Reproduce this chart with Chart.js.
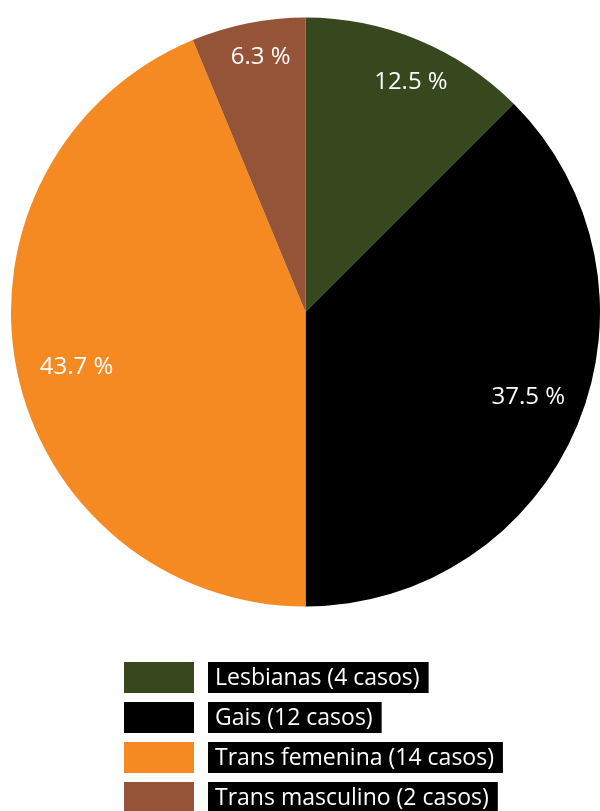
<!DOCTYPE html>
<html>
<head>
<meta charset="utf-8">
<script src="https://cdn.jsdelivr.net/npm/chart.js@4/dist/chart.umd.min.js"></script>
<style>
html,body{margin:0;padding:0;background:#fff;}
#wrap{width:600px;height:811px;position:relative;}
</style>
</head>
<body>
<div id="wrap"><canvas id="c" width="600" height="811"></canvas></div>
<script>
const categories = ["Lesbianas", "Gais", "Trans femenina", "Trans masculino"];
const cases = [4, 12, 14, 2];
const percentLabels = ["12.5 %", "37.5 %", "43.7 %", "6.3 %"];
const legendLabels = ["Lesbianas (4 casos)", "Gais (12 casos)", "Trans femenina (14 casos)", "Trans masculino (2 casos)"];
const colors = ["#37481f", "#000000", "#f58a22", "#955437"];

const FONT = '"Open Sans", "Noto Sans", sans-serif';

const sliceLabels = {
  id: 'sliceLabels',
  afterDatasetsDraw(chart, args, opts) {
    const ctx = chart.ctx;
    const meta = chart.getDatasetMeta(0);
    ctx.save();
    ctx.fillStyle = '#ffffff';
    ctx.font = opts.font;
    ctx.textAlign = 'center';
    ctx.textBaseline = 'middle';
    meta.data.forEach((arc, i) => {
      const p = arc.getProps(['x','y','startAngle','endAngle','outerRadius'], true);
      const mid = (p.startAngle + p.endAngle) / 2 + opts.shift[i] * Math.PI / 180;
      const r = p.outerRadius * opts.radial[i];
      ctx.fillText(percentLabels[i], p.x + Math.cos(mid) * r, p.y + Math.sin(mid) * r);
    });
    ctx.restore();
  }
};

const boxLegend = {
  id: 'boxLegend',
  afterDraw(chart, args, opts) {
    const ctx = chart.ctx;
    ctx.save();
    ctx.font = opts.font;
    ctx.textBaseline = 'middle';
    legendLabels.forEach((txt, i) => {
      const y = opts.top + i * opts.step;
      ctx.fillStyle = colors[i];
      ctx.fillRect(opts.boxX, y, opts.boxW, opts.boxH);
      const w = ctx.measureText(txt).width;
      ctx.fillStyle = '#000000';
      ctx.fillRect(opts.labelX, y, w + opts.padL + opts.padR, opts.boxH);
      ctx.fillStyle = '#ffffff';
      ctx.fillText(txt, opts.labelX + opts.padL, y + opts.boxH / 2 + 1);
    });
    ctx.restore();
  }
};

new Chart(document.getElementById('c'), {
  type: 'pie',
  data: {
    labels: categories,
    datasets: [{
      data: cases,
      backgroundColor: colors,
      borderWidth: 0
    }]
  },
  options: {
    responsive: false,
    animation: false,
    layout: { padding: { left: 11, right: 0, top: 17, bottom: 204 } },
    plugins: {
      legend: { display: false },
      tooltip: { enabled: false },
      sliceLabels: { font: '24px ' + FONT, radial: [0.86, 0.81, 0.80, 0.88], shift: [2.1, -1.6, -2.4, 1.3] },
      boxLegend: { font: '23px ' + FONT, top: 662, step: 40, boxX: 124, boxW: 70, boxH: 31, labelX: 208, padL: 7, padR: 9 }
    }
  },
  plugins: [sliceLabels, boxLegend]
});
</script>
</body>
</html>
